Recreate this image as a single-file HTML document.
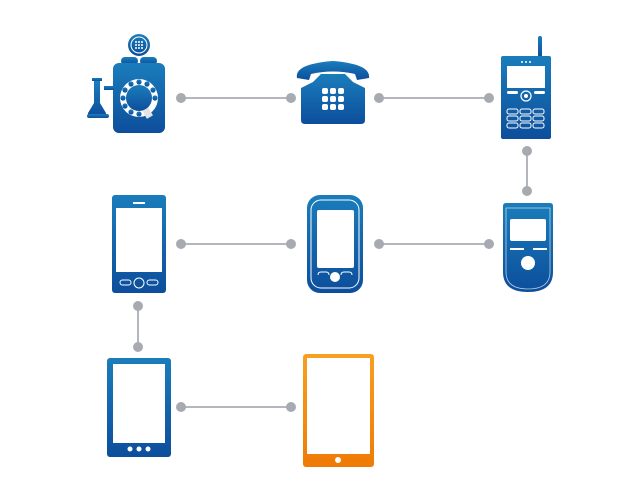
<!DOCTYPE html>
<html><head><style>html,body{margin:0;padding:0;background:#fff}svg{display:block}</style></head>
<body>
<svg width="640" height="500" viewBox="0 0 640 500" xmlns="http://www.w3.org/2000/svg">
<defs>
<linearGradient id="b" x1="0" y1="0" x2="0" y2="1"><stop offset="0" stop-color="#1a7dbb"/><stop offset="1" stop-color="#0d4e9c"/></linearGradient>
<linearGradient id="o" x1="0" y1="0" x2="0" y2="1"><stop offset="0" stop-color="#f7a021"/><stop offset="1" stop-color="#f07a06"/></linearGradient>
</defs>
<g stroke="#b3b6bb" stroke-width="2">
<line x1="181" y1="98" x2="291" y2="98"/><line x1="379" y1="98" x2="489" y2="98"/>
<line x1="527" y1="151" x2="527" y2="191"/>
<line x1="181" y1="244" x2="291" y2="244"/><line x1="379" y1="244" x2="489" y2="244"/>
<line x1="138" y1="306" x2="138" y2="347"/>
<line x1="181" y1="407" x2="291" y2="407"/>
</g>
<g fill="#a7aab0">
<circle cx="181" cy="98" r="5"/><circle cx="291" cy="98" r="5"/><circle cx="379" cy="98" r="5"/><circle cx="489" cy="98" r="5"/>
<circle cx="527" cy="151" r="5"/><circle cx="527" cy="191" r="5"/>
<circle cx="181" cy="244" r="5"/><circle cx="291" cy="244" r="5"/><circle cx="379" cy="244" r="5"/><circle cx="489" cy="244" r="5"/>
<circle cx="138" cy="306" r="5"/><circle cx="138" cy="347" r="5"/>
<circle cx="181" cy="407" r="5"/><circle cx="291" cy="407" r="5"/>
</g>
<!-- wall phone -->
<g fill="url(#b)">
<circle cx="139" cy="45" r="11"/>
<rect x="121" y="57" width="17" height="8" rx="4"/><rect x="140" y="57" width="17" height="8" rx="4"/>
<rect x="113" y="63" width="52" height="70" rx="6"/>
<rect x="104" y="86" width="10" height="4"/>
<rect x="92" y="78" width="10" height="3"/>
<path d="M94 81 h6 v22 l6 10 v3 h-18 v-3 l6 -10z"/>
<rect x="87" y="114" width="22" height="4" rx="2"/>
</g>
<circle cx="139" cy="45" r="8" fill="none" stroke="#fff" stroke-width="1"/>
<g fill="#fff"><circle cx="136" cy="42" r="1"/><circle cx="139" cy="42" r="1"/><circle cx="142" cy="42" r="1"/><circle cx="136" cy="45" r="1"/><circle cx="139" cy="45" r="1"/><circle cx="142" cy="45" r="1"/><circle cx="136" cy="48" r="1"/><circle cx="139" cy="48" r="1"/><circle cx="142" cy="48" r="1"/></g>
<circle cx="139" cy="98" r="19" fill="#fff"/>
<circle cx="139" cy="98" r="13" fill="url(#b)"/>
<g fill="url(#b)">
<circle cx="139" cy="82" r="2.6"/><circle cx="147" cy="84" r="2.6"/><circle cx="153" cy="90" r="2.6"/><circle cx="155" cy="98" r="2.6"/><circle cx="131" cy="84" r="2.6"/><circle cx="125" cy="90" r="2.6"/><circle cx="123" cy="98" r="2.6"/><circle cx="125" cy="106" r="2.6"/><circle cx="131" cy="112" r="2.6"/><circle cx="139" cy="114" r="2.6"/>
</g>
<rect x="144" y="109" width="7" height="9" fill="#e4e4e4" transform="rotate(-30 147 113)"/>
<!-- desk phone -->
<g fill="url(#b)">
<path d="M297 78 q-3 -14 36 -17 q38 3 36 17 l-12 2 l-2 -6 q-22 -5 -44 0 l-2 6z"/>
<path d="M313 82 l8 -8 h24 l8 8 l12 6 v32 q0 4 -4 4 h-56 q-4 0 -4 -4 v-32z"/>
</g>
<g fill="#fff">
<rect x="322" y="88" width="6" height="6" rx="2"/><rect x="330" y="88" width="6" height="6" rx="2"/><rect x="338" y="88" width="6" height="6" rx="2"/>
<rect x="322" y="96" width="6" height="6" rx="2"/><rect x="330" y="96" width="6" height="6" rx="2"/><rect x="338" y="96" width="6" height="6" rx="2"/>
<rect x="322" y="104" width="6" height="6" rx="2"/><rect x="330" y="104" width="6" height="6" rx="2"/><rect x="338" y="104" width="6" height="6" rx="2"/>
</g>
<!-- cell phone -->
<g fill="url(#b)"><rect x="538" y="36" width="4" height="22" rx="2"/><rect x="501" y="56" width="50" height="83" rx="2"/></g>
<g fill="#fff">
<circle cx="522" cy="62" r="1"/><circle cx="526" cy="62" r="1"/><circle cx="530" cy="62" r="1"/>
<rect x="507" y="66" width="38" height="22"/>
<rect x="507" y="91" width="11" height="3" rx="1.5"/><rect x="534" y="91" width="11" height="3" rx="1.5"/>
</g>
<circle cx="526" cy="96" r="5" fill="none" stroke="#fff" stroke-width="1.2"/><circle cx="526" cy="96" r="2" fill="#fff"/>
<g fill="none" stroke="#fff" stroke-width="1"><rect x="507" y="109" width="11" height="5" rx="2"/><rect x="520" y="109" width="11" height="5" rx="2"/><rect x="533" y="109" width="11" height="5" rx="2"/><rect x="507" y="116" width="11" height="5" rx="2"/><rect x="520" y="116" width="11" height="5" rx="2"/><rect x="533" y="116" width="11" height="5" rx="2"/><rect x="507" y="123" width="11" height="5" rx="2"/><rect x="520" y="123" width="11" height="5" rx="2"/><rect x="533" y="123" width="11" height="5" rx="2"/></g>
<!-- candybar phone 2 -->
<path d="M503 206 q0 -3 3 -3 h44 q3 0 3 3 v66 q0 20 -25 20 q-25 0 -25 -20z" fill="url(#b)"/>
<path d="M506 208 h44 v64 q0 17 -22 17 q-22 0 -22 -17z" fill="none" stroke="#fff" stroke-width="0.8" opacity=".7"/>
<rect x="510" y="219" width="36" height="22" rx="2" fill="#fff"/>
<rect x="510" y="248" width="14" height="2" fill="#fff"/><rect x="533" y="248" width="14" height="2" fill="#fff"/>
<circle cx="528" cy="263" r="7" fill="#fff"/>
<!-- smartphone 1 -->
<rect x="112" y="195" width="54" height="98" rx="3" fill="url(#b)"/>
<rect x="116" y="208" width="46" height="64" fill="#fff"/>
<rect x="133" y="202" width="12" height="2" fill="#fff"/>
<g fill="none" stroke="#fff" stroke-width="1"><rect x="120" y="280" width="11" height="5" rx="2.5"/><rect x="147" y="280" width="11" height="5" rx="2.5"/><ellipse cx="139" cy="283" rx="5" ry="5"/></g>
<!-- smartphone 2 -->
<rect x="307" y="195" width="56" height="98" rx="13" fill="url(#b)"/>
<rect x="311" y="200" width="48" height="88" rx="10" fill="none" stroke="#fff" stroke-width="1"/>
<rect x="317" y="210" width="37" height="58" rx="2" fill="#fff"/>
<circle cx="335" cy="277" r="5" fill="#fff"/>
<path d="M318 275 q0 -3 3 -3 h5 q3 0 3 3 M341 275 q0 -3 3 -3 h5 q3 0 3 3" fill="none" stroke="#fff" stroke-width="1"/>
<!-- tablet phone -->
<rect x="107" y="358" width="64" height="99" rx="3" fill="url(#b)"/>
<rect x="113" y="364" width="52" height="79" fill="#fff"/>
<g fill="#fff"><circle cx="130" cy="449" r="2.5"/><circle cx="139" cy="449" r="2.5"/><circle cx="148" cy="449" r="2.5"/></g>
<!-- orange tablet -->
<rect x="303" y="354" width="71" height="113" rx="3" fill="url(#o)"/>
<rect x="307" y="358" width="63" height="96" fill="#fff"/>
<circle cx="338" cy="460" r="3" fill="#fff"/>
</svg>
</body></html>
